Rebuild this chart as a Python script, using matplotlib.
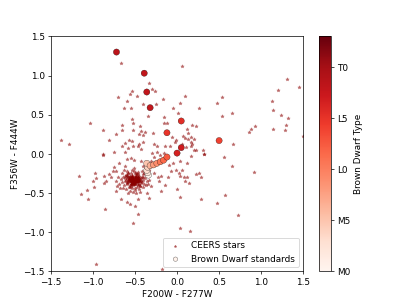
import numpy as np
import matplotlib
matplotlib.use("Agg")
import matplotlib.pyplot as plt

# CEERS stars: F200W-F277W (x) vs F356W-F444W (y)
ceers_x = [
    # scattered upper field
    -0.67, -0.33, -0.53, -0.56, -0.48, -0.30, -0.26, -0.70, -0.59, -0.41, -0.25, -0.17,
    -0.63, -0.55, -0.05, -0.35, -0.53, -0.52, -1.04, -0.65, -0.15, -0.15, -0.12, -0.44,
    -0.88, -0.65, -0.52, -0.43, -0.38, -0.40, -0.45, -0.29, -0.73, -1.38, -1.29, -0.81,
    -0.57, -0.53, -0.62, -0.66, -0.58, -0.52, -0.47, -0.45, -0.41, -0.43, -0.27, -0.24,
    -0.14, -0.08, -0.03, -0.06, -0.01, -0.88, -0.75, -0.62, -0.30, -0.15,
    0.056, 0.10, 0.04, 0.01, 0.26, 0.54, 0.48, 0.53, 0.65, 0.18, 0.23, 0.12, 0.13, 0.16,
    0.07, 0.10, 0.13, 0.20, 0.17, 0.18, 0.16, 0.11, 0.06, 0.20, 0.22, 0.31, 0.32, 0.67,
    0.88, 0.93, 0.86, 1.31, 1.20, 1.45, 1.13, 1.14, 1.23, 1.32, 1.14, 1.30, 1.28, 1.50,
    # lower field
    -0.88, -1.16, -0.98, -0.87, -1.00, -0.96, -0.87, -0.84, -1.07, -1.14, -1.06, -0.99,
    -0.81, -0.75, -0.76, -0.79, -0.71, -0.72, -0.67, -0.60, -0.56, -0.50, -0.46, -0.46,
    -0.52, -0.86, -0.96, -0.18, -0.31, -0.33, -0.27, -0.23, -0.19, -0.11, -0.07, -0.01,
    -0.31, -0.19, -0.33, -0.43, -0.51, -0.55, -0.59,
    0.16, 0.32, 0.56, 0.65, 0.92, 0.04, 0.12, 0.06, 0.02, 0.04, 0.08, 0.12, 0.14, 0.10,
    0.22, 0.26, 0.28, 0.03, 0.28, 0.47, 0.57, 0.73, 0.04, 0.15, 0.00,
    -0.24, -0.20, -0.09, -0.05, -0.27, -0.21, -0.14, -0.36, -0.40, -0.69, -0.73, -0.62,
    # dense cluster
    -0.52, -0.50, -0.55, -0.48, -0.53, -0.57, -0.46, -0.51, -0.49, -0.54, -0.58, -0.45,
    -0.60, -0.44, -0.56, -0.47, -0.52, -0.50, -0.62, -0.42, -0.59, -0.43, -0.55, -0.48,
    -0.64, -0.40, -0.53, -0.57, -0.46, -0.61, -0.51, -0.66, -0.39, -0.44, -0.58, -0.50,
    -0.63, -0.41, -0.54, -0.49, -0.52, -0.47, -0.56, -0.50, -0.53, -0.45, -0.60, -0.57,
    -0.48, -0.43, -0.55, -0.62, -0.38, -0.67, -0.52, -0.47, -0.59, -0.36, -0.69, -0.40,
    -0.64, -0.45, -0.56, -0.35, -0.70, -0.42, -0.61, -0.54, -0.37, -0.66, -0.49, -0.58,
    -0.33, -0.72, -0.44, -0.63, -0.39, -0.68, -0.51, -0.34,
    -0.51, -0.53, -0.49, -0.55, -0.50, -0.52, -0.48, -0.54, -0.51, -0.50, -0.53, -0.47,
    -0.56, -0.52, -0.49, -0.51, -0.54, -0.50, -0.48, -0.52,
    -0.58, -0.44, -0.60, -0.46, -0.55, -0.49, -0.57, -0.43, -0.53, -0.47, -0.59, -0.45,
    -0.56, -0.48, -0.61, -0.42, -0.54, -0.50, -0.58, -0.46, -0.52, -0.44, -0.57, -0.49,
    -0.62, -0.41, -0.55, -0.47, -0.60, -0.51, -0.53, -0.45, -0.56, -0.49, -0.50, -0.54,
    -0.52, -0.55, -0.49, -0.47, -0.57, -0.51, -0.54, -0.48, -0.50, -0.53, -0.56, -0.46,
    -0.51, -0.49, -0.55, -0.52, -0.47, -0.58, -0.50, -0.53, -0.45, -0.54, -0.48, -0.56,
]
ceers_y = [
    1.16, 0.90, 0.80, 0.76, 0.74, 0.83, 0.80, 0.73, 0.67, 0.64, 0.64, 0.70,
    0.58, 0.59, 0.59, 0.48, 0.44, 0.39, 0.39, 0.37, 0.47, 0.39, 0.39, 0.35,
    0.30, 0.31, 0.31, 0.29, 0.28, 0.24, 0.26, 0.27, 0.25, 0.18, 0.13, 0.18,
    0.18, 0.16, 0.14, 0.10, 0.07, 0.10, 0.10, 0.12, 0.15, 0.06, 0.12, 0.10,
    0.10, 0.10, 0.15, 0.21, 0.18, 0.00, 0.03, 0.03, 0.01, 0.01,
    1.12, 0.74, 0.65, 0.52, 0.59, 0.72, 0.65, 0.48, 0.52, 0.37, 0.36, 0.32, 0.27, 0.22,
    0.23, 0.20, 0.19, 0.19, 0.15, 0.12, 0.10, 0.09, 0.12, 0.05, 0.05, 0.05, 0.00, 0.13,
    0.32, 0.35, 0.28, 0.96, 0.82, 0.86, 0.67, 0.56, 0.50, 0.46, 0.32, 0.37, 0.30, 0.23,
    -0.01, -0.28, -0.24, -0.28, -0.34, -0.31, -0.37, -0.35, -0.46, -0.51, -0.58, -0.42,
    -0.26, -0.17, -0.22, -0.30, -0.41, -0.47, -0.57, -0.62, -0.64, -0.66, -0.58, -0.77,
    -0.88, -0.70, -1.40, -1.47, -0.09, -0.20, -0.24, -0.30, -0.28, -0.30, -0.22, -0.20,
    -0.41, -0.47, -0.56, -0.09, -0.08, -0.05, -0.07,
    -0.03, 0.00, -0.04, -0.15, -0.23, -0.09, -0.11, -0.20, -0.24, -0.28, -0.30, -0.30, -0.37, -0.35,
    -0.26, -0.25, -0.29, -0.55, -0.57, -0.63, -0.52, -0.78, -0.95, -0.98, -0.45,
    0.02, -0.02, -0.14, -0.12, -0.04, -0.35, -0.40, -0.50, -0.15, -0.12, -0.22, -0.16,
    -0.33, -0.31, -0.35, -0.34, -0.29, -0.32, -0.30, -0.37, -0.28, -0.38, -0.36, -0.35,
    -0.31, -0.32, -0.28, -0.38, -0.40, -0.25, -0.34, -0.29, -0.39, -0.37, -0.25, -0.42,
    -0.30, -0.33, -0.44, -0.42, -0.26, -0.27, -0.22, -0.36, -0.38, -0.41, -0.24, -0.46,
    -0.40, -0.26, -0.31, -0.33, -0.36, -0.32, -0.34, -0.39, -0.27, -0.28, -0.37, -0.29,
    -0.36, -0.34, -0.41, -0.28, -0.31, -0.32, -0.48, -0.23, -0.22, -0.35, -0.38, -0.42,
    -0.44, -0.45, -0.47, -0.28, -0.29, -0.22, -0.45, -0.20, -0.40, -0.25, -0.50, -0.50,
    -0.33, -0.34, -0.48, -0.21, -0.24, -0.43, -0.18, -0.38,
    -0.33, -0.32, -0.34, -0.33, -0.35, -0.31, -0.33, -0.34, -0.30, -0.32, -0.36, -0.33,
    -0.32, -0.35, -0.31, -0.34, -0.33, -0.29, -0.35, -0.37,
    -0.30, -0.35, -0.36, -0.29, -0.39, -0.27, -0.33, -0.31, -0.37, -0.40, -0.28, -0.38,
    -0.42, -0.26, -0.33, -0.36, -0.30, -0.43, -0.25, -0.32, -0.38, -0.41, -0.35, -0.24,
    -0.31, -0.30, -0.39, -0.34, -0.27, -0.36, -0.30, -0.33, -0.40, -0.29, -0.37, -0.32,
    -0.31, -0.34, -0.36, -0.30, -0.32, -0.38, -0.29, -0.35, -0.33, -0.37, -0.31, -0.34,
    -0.35, -0.30, -0.32, -0.36, -0.34, -0.33, -0.38, -0.28, -0.31, -0.36, -0.32, -0.30,
]

# brown dwarf standards, spectral type index (M0=0, L0=10, T0=20)
bd_x = [-0.34, -0.35, -0.36, -0.35, -0.36, -0.32, -0.28, -0.24, -0.20, -0.16,
        -0.12, 0.00, 0.05, 0.50, -0.12, 0.05, -0.32, -0.36, -0.39, -0.72]
bd_y = [-0.27, -0.24, -0.21, -0.17, -0.12, -0.15, -0.14, -0.12, -0.10, -0.08,
        -0.04, 0.01, 0.08, 0.17, 0.27, 0.42, 0.59, 0.79, 1.03, 1.30]
bd_type = [0.5, 2.0, 3.0, 4.0, 5.0, 6.5, 8.0, 9.0, 10.5, 11.5,
           12.5, 16.5, 17.0, 14.0, 15.0, 15.5, 18.0, 18.0, 18.0, 18.5]

type_ticks = [0, 5, 10, 15, 20]
type_labels = ["M0", "M5", "L0", "L5", "T0"]

fig = plt.figure()

plt.scatter(ceers_x, ceers_y, marker="*", s=14, color="darkred", alpha=0.45,
            linewidths=0.8, label="CEERS stars")
sc = plt.scatter(bd_x, bd_y, c=bd_type, cmap="Reds", vmin=0, vmax=23, s=50,
                 edgecolors="k", linewidths=0.3, label="Brown Dwarf standards")

plt.xlim(-1.5, 1.5)
plt.ylim(-1.5, 1.5)
plt.xlabel("F200W - F277W")
plt.ylabel("F356W - F444W")

cbar = plt.colorbar(sc)
cbar.set_ticks(type_ticks)
cbar.set_ticklabels(type_labels)
cbar.set_label("Brown Dwarf Type")

plt.legend(loc="lower right", markerscale=0.7)

plt.savefig("out.png", dpi=407 / 6.4)
